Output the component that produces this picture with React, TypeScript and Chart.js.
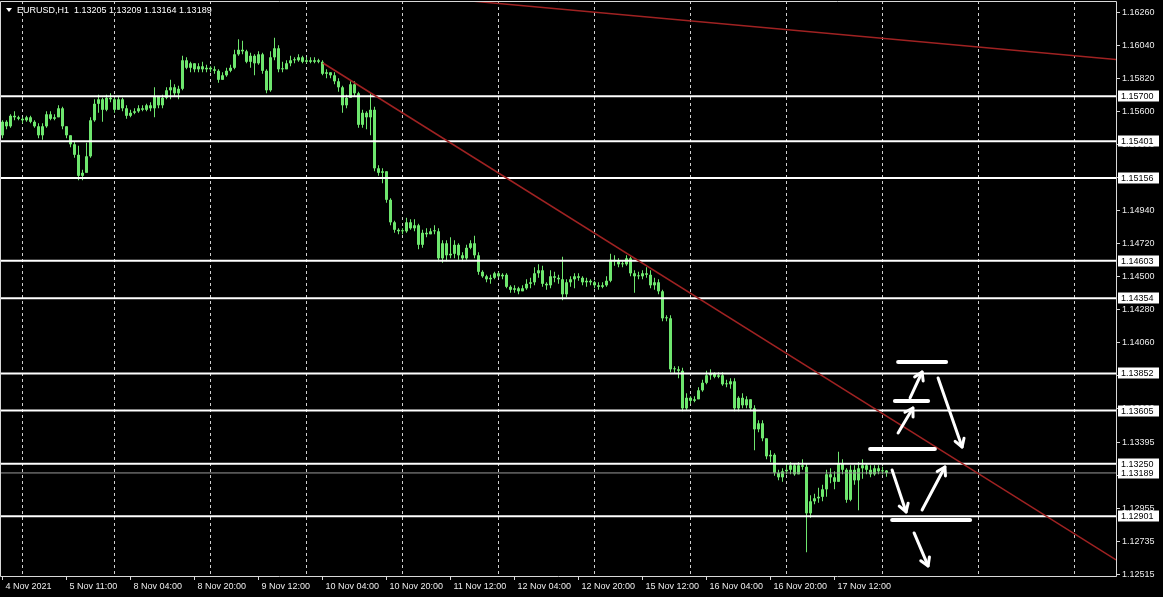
import React, { useEffect, useRef } from 'react';
import { Chart, registerables } from 'chart.js';
Chart.register(...registerables);

// ---------- data (EURUSD H1) ----------
const firstOpen = 1.1544;
const closes = [
  1.1553, 1.1550, 1.1557, 1.1556, 1.1555, 1.1554, 1.1556, 1.1553, 1.1550, 1.1544,
  1.1550, 1.1558, 1.1555, 1.1556, 1.1562, 1.1550, 1.1544, 1.1538, 1.1531, 1.1517,
  1.1519, 1.1530, 1.1554, 1.1565, 1.1568, 1.1561, 1.1569, 1.1568, 1.1561, 1.1568,
  1.1562, 1.1557, 1.1559, 1.1560, 1.1562, 1.1561, 1.1564, 1.1562, 1.1570, 1.1564,
  1.1569, 1.1574, 1.1576, 1.1572, 1.1575, 1.1594, 1.1589, 1.1592, 1.1588, 1.1590,
  1.1588, 1.1589, 1.1588, 1.1587, 1.1581, 1.1584, 1.1587, 1.1589, 1.1598, 1.1601,
  1.1600, 1.1593, 1.1597, 1.1592, 1.1598, 1.1587, 1.1574, 1.1596, 1.1602, 1.1588,
  1.1588, 1.1592, 1.1594, 1.1594, 1.1596, 1.1593, 1.1594, 1.1593, 1.1594, 1.1593,
  1.1585, 1.1586, 1.1584, 1.1580, 1.1576, 1.1564, 1.1569, 1.1578, 1.1572, 1.1551,
  1.1559, 1.1556, 1.1561, 1.1522, 1.1519, 1.1520, 1.1501, 1.1486, 1.1481, 1.1480,
  1.1480, 1.1486, 1.1482, 1.1484, 1.1471, 1.1479, 1.1478, 1.1480, 1.1480, 1.1462,
  1.1472, 1.1464, 1.1465, 1.1471, 1.1464, 1.1462, 1.1469, 1.1472, 1.1464, 1.1453,
  1.1450, 1.1448, 1.1449, 1.1452, 1.1450, 1.1451, 1.1443, 1.1441, 1.1442, 1.1440,
  1.1442, 1.1445, 1.1446, 1.1452, 1.1454, 1.1445, 1.1444, 1.1450, 1.1449, 1.1448,
  1.1438, 1.1446, 1.1448, 1.1450, 1.1449, 1.1446, 1.1447, 1.1446, 1.1444, 1.1443,
  1.1444, 1.1447, 1.1461, 1.1460, 1.1458, 1.1458, 1.1462, 1.1452, 1.1450, 1.1450,
  1.1452, 1.1451, 1.1444, 1.1446, 1.1440, 1.1422, 1.1422, 1.1388, 1.1388, 1.1387,
  1.1362, 1.1369, 1.1367, 1.1368, 1.1374, 1.1379, 1.1384, 1.1385, 1.1383, 1.1384,
  1.1378, 1.1378, 1.1380, 1.1362, 1.1369, 1.1364, 1.1368, 1.1362, 1.1348, 1.1352,
  1.1342, 1.1330, 1.1331, 1.1319, 1.1316, 1.1320, 1.1321, 1.1324, 1.1318, 1.1324,
  1.1323, 1.1292, 1.1300, 1.1302, 1.1303, 1.1308, 1.1318, 1.1316, 1.1313, 1.1325,
  1.1321, 1.1301, 1.1321, 1.1314, 1.1322, 1.1324, 1.1321, 1.1318, 1.1322, 1.1320,
  1.13205, 1.13189,
];
const highs = [
  1.1554, 1.1554, 1.1558, 1.1560, 1.1557, 1.1556, 1.1557, 1.1557, 1.1554, 1.1552,
  1.1552, 1.1560, 1.1560, 1.1558, 1.1564, 1.1563, 1.1550, 1.1544, 1.1540, 1.1537,
  1.1521, 1.1539, 1.1556, 1.1568, 1.1571, 1.1569, 1.1571, 1.1572, 1.1569, 1.1570,
  1.1569, 1.1564, 1.1561, 1.1562, 1.1564, 1.1564, 1.1565, 1.1566, 1.1576, 1.1570,
  1.1571, 1.1576, 1.1581, 1.1578, 1.1577, 1.1597, 1.1596, 1.1593, 1.1590, 1.1592,
  1.1593, 1.1591, 1.1590, 1.1590, 1.1588, 1.1586, 1.1589, 1.1591, 1.1601, 1.1608,
  1.1607, 1.1601, 1.1599, 1.1598, 1.1600, 1.1599, 1.1588, 1.1600, 1.1609, 1.1604,
  1.1593, 1.1594, 1.1597, 1.1596, 1.1598, 1.1597, 1.1596, 1.1596, 1.1596, 1.1595,
  1.1594, 1.1588, 1.1586, 1.1586, 1.1582, 1.1577, 1.1571, 1.1580, 1.1580, 1.1573,
  1.1561, 1.1560, 1.1572, 1.1563, 1.1524, 1.1522, 1.1520, 1.1502, 1.1487, 1.1482,
  1.1482, 1.1489, 1.1488, 1.1488, 1.1485, 1.1481, 1.1482, 1.1482, 1.1484, 1.1482,
  1.1474, 1.1474, 1.1476, 1.1474, 1.1472, 1.1466, 1.1471, 1.1474, 1.1477, 1.1466,
  1.1454, 1.1451, 1.1451, 1.1453, 1.1453, 1.1452, 1.1452, 1.1444, 1.1444, 1.1443,
  1.1444, 1.1448, 1.1449, 1.1456, 1.1458, 1.1457, 1.1446, 1.1454, 1.1453, 1.1451,
  1.1463, 1.1448, 1.1450, 1.1452, 1.1452, 1.1450, 1.1449, 1.1448, 1.1447, 1.1446,
  1.1446, 1.1450, 1.1465, 1.1464, 1.1462, 1.1460, 1.1464, 1.1463, 1.1454, 1.1453,
  1.1454, 1.1456, 1.1454, 1.1449, 1.1448, 1.1441, 1.1424, 1.1424, 1.1390, 1.1390,
  1.1389, 1.1372, 1.1370, 1.1370, 1.1376, 1.1381, 1.1387, 1.1388, 1.1386, 1.1386,
  1.1386, 1.1381, 1.1382, 1.1382, 1.1370, 1.1372, 1.1370, 1.1366, 1.1364, 1.1354,
  1.1354, 1.1341, 1.1334, 1.1332, 1.1321, 1.1322, 1.1325, 1.1326, 1.1325, 1.1326,
  1.1328, 1.1325, 1.1304, 1.1305, 1.1309, 1.1311, 1.1321, 1.1322, 1.1320, 1.1333,
  1.1328, 1.1322, 1.1324, 1.1324, 1.1326, 1.1328, 1.1325, 1.1324, 1.1324, 1.1324,
  1.1323, 1.13209,
];
const lows = [
  1.1542, 1.1548, 1.1549, 1.1554, 1.1554, 1.1552, 1.1553, 1.1552, 1.1549, 1.1542,
  1.1541, 1.1549, 1.1554, 1.1554, 1.1556, 1.1548, 1.1542, 1.1536, 1.1529, 1.1514,
  1.1514, 1.1521, 1.1529, 1.1553, 1.1559, 1.1553, 1.1560, 1.1566, 1.1559, 1.1561,
  1.1560, 1.1555, 1.1556, 1.1558, 1.1559, 1.1560, 1.1560, 1.1560, 1.1556, 1.1562,
  1.1562, 1.1568, 1.1568, 1.1570, 1.1568, 1.1574, 1.1588, 1.1586, 1.1586, 1.1586,
  1.1586, 1.1586, 1.1586, 1.1585, 1.1579, 1.1581, 1.1583, 1.1586, 1.1588, 1.1597,
  1.1598, 1.1592, 1.1589, 1.1584, 1.1591, 1.1585, 1.1572, 1.1573, 1.1594, 1.1586,
  1.1586, 1.1588, 1.1590, 1.1592, 1.1593, 1.1592, 1.1592, 1.1592, 1.1592, 1.1592,
  1.1584, 1.1582, 1.1582, 1.1578, 1.1573, 1.1559, 1.1562, 1.1569, 1.1570, 1.1549,
  1.1549, 1.1548, 1.1544, 1.1520, 1.1517, 1.1512, 1.1499, 1.1484, 1.1479, 1.1478,
  1.1478, 1.1479, 1.1481, 1.1480, 1.1468, 1.1469, 1.1476, 1.1479, 1.1478, 1.1460,
  1.1459, 1.1460, 1.1462, 1.1462, 1.1461, 1.1460, 1.1461, 1.1468, 1.1462, 1.1451,
  1.1449, 1.1446, 1.1445, 1.1448, 1.1449, 1.1448, 1.1442, 1.1439, 1.1439, 1.1438,
  1.1440, 1.1441, 1.1442, 1.1444, 1.1449, 1.1443, 1.1441, 1.1442, 1.1446, 1.1445,
  1.1434, 1.1436, 1.1443, 1.1442, 1.1447, 1.1444, 1.1443, 1.1444, 1.1442, 1.1441,
  1.1442, 1.1443, 1.1446, 1.1457, 1.1456, 1.1456, 1.1457, 1.1450, 1.1439, 1.1448,
  1.1448, 1.1449, 1.1442, 1.1441, 1.1438, 1.1420, 1.1420, 1.1386, 1.1385, 1.1382,
  1.1360, 1.1361, 1.1365, 1.1366, 1.1368, 1.1373, 1.1378, 1.1381, 1.1382, 1.1382,
  1.1377, 1.1376, 1.1375, 1.1360, 1.1360, 1.1362, 1.1362, 1.1360, 1.1334, 1.1346,
  1.1340, 1.1328, 1.1326, 1.1317, 1.1314, 1.1313, 1.1318, 1.1318, 1.1317, 1.1321,
  1.1321, 1.1266, 1.1289, 1.1298, 1.1299, 1.1300, 1.1303, 1.1312, 1.1308, 1.1314,
  1.1318, 1.1299, 1.1300, 1.1311, 1.1294, 1.1315, 1.1318, 1.1316, 1.1317, 1.1318,
  1.1318, 1.13164,
];

const xLabelIdx = [0, 16, 32, 48, 64, 80, 96, 112, 128, 144, 160, 176, 192, 208];
const xLabelText = [
  '4 Nov 2021', '5 Nov 11:00', '8 Nov 04:00', '8 Nov 20:00', '9 Nov 12:00', '10 Nov 04:00',
  '10 Nov 20:00', '11 Nov 12:00', '12 Nov 04:00', '12 Nov 20:00', '15 Nov 12:00',
  '16 Nov 04:00', '16 Nov 20:00', '17 Nov 12:00',
];
const dayGridIdx = [5, 28, 52, 76, 100, 124, 148, 172, 196, 220, 244, 268];
const priceTicks = [
  1.1626, 1.1604, 1.1582, 1.156, 1.1538, 1.1516, 1.1494, 1.1472, 1.145, 1.1428, 1.1406,
  1.1384, 1.1362, 1.13395, 1.13175, 1.12955, 1.12735, 1.12515,
];
const levelPrices = [1.157, 1.15401, 1.15156, 1.14603, 1.14354, 1.13852, 1.13605, 1.1325, 1.12901];
// trend lines: [barIndex, price]
const trendMain = [[80.1, 1.15922], [278.4, 1.12609]];
const trendTop = [[114.4, 1.16342], [278.4, 1.15945]];
// hand-drawn marks: bars [fromIdx, toIdx, price], arrows [tailIdx, tailPrice, tipIdx, tipPrice]
const drawnBars = [
  [223.9, 235.9, 1.13929],
  [223.1, 231.4, 1.13669],
  [216.9, 233.1, 1.13349],
  [222.4, 241.9, 1.12875],
];
const drawnArrows = [
  [223.9, 1.13455, 227.6, 1.13622],
  [226.9, 1.13689, 229.9, 1.13862],
  [233.9, 1.13822, 239.9, 1.13362],
  [222.4, 1.13209, 225.9, 1.12929],
  [229.9, 1.12942, 235.6, 1.13229],
  [227.9, 1.12789, 231.4, 1.12569],
];

const X_MIN = -0.625;
const X_MAX = 278.375;
const Y_MIN = 1.12502;
const Y_MAX = 1.163353;

const GREEN = 'rgb(110,230,110)';
const FONT = 'Liberation Sans';

export default function App() {
  const ref = useRef<HTMLCanvasElement | null>(null);

  useEffect(() => {
    document.body.style.margin = '0';
    document.body.style.background = '#000';
    const opens = closes.map((c, i) => (i === 0 ? firstOpen : closes[i - 1]));
    const bodies = closes.map((c, i) => ({ x: i, y: [opens[i], c] }));
    const wicks = closes.map((c, i) => ({
      x: i,
      y: [Math.min(lows[i], opens[i], c), Math.max(highs[i], opens[i], c)],
    }));
    const last = closes.length - 1;

    const levelSets = levelPrices.map((p) => ({
      type: 'line' as const,
      data: [{ x: X_MIN, y: p }, { x: X_MAX, y: p }],
      borderColor: '#ffffff',
      borderWidth: 2,
      pointRadius: 0,
      order: 1,
    }));

    const noPad = (s: any) => {
      s.paddingTop = 0;
      s.paddingBottom = 0;
      s.paddingLeft = 0;
      s.paddingRight = 0;
    };

    const overlay = {
      id: 'overlay',
      afterDatasetsDraw(chart: any) {
        const { ctx } = chart;
        const xs = chart.scales.x;
        const ys = chart.scales.y;
        ctx.save();
        ctx.strokeStyle = '#ffffff';
        ctx.lineCap = 'round';
        ctx.lineJoin = 'round';
        ctx.lineWidth = 4;
        for (const [a, b, p] of drawnBars) {
          ctx.beginPath();
          ctx.moveTo(xs.getPixelForValue(a), ys.getPixelForValue(p));
          ctx.lineTo(xs.getPixelForValue(b), ys.getPixelForValue(p));
          ctx.stroke();
        }
        ctx.lineWidth = 3;
        for (const [ti, tp, hi, hp] of drawnArrows) {
          const x0 = xs.getPixelForValue(ti), y0 = ys.getPixelForValue(tp);
          const x1 = xs.getPixelForValue(hi), y1 = ys.getPixelForValue(hp);
          ctx.beginPath();
          ctx.moveTo(x0, y0);
          ctx.lineTo(x1, y1);
          ctx.stroke();
          const ang = Math.atan2(y1 - y0, x1 - x0);
          const len = 9;
          ctx.beginPath();
          ctx.moveTo(x1 - len * Math.cos(ang - 0.55), y1 - len * Math.sin(ang - 0.55));
          ctx.lineTo(x1, y1);
          ctx.lineTo(x1 - len * Math.cos(ang + 0.55), y1 - len * Math.sin(ang + 0.55));
          ctx.stroke();
        }
        ctx.restore();
      },
      afterDraw(chart: any) {
        const { ctx, chartArea: ca } = chart;
        const ys = chart.scales.y;
        ctx.save();
        // frame
        ctx.strokeStyle = '#d8d8d8';
        ctx.lineWidth = 1;
        ctx.beginPath();
        ctx.moveTo(ca.left + 0.5, ca.top + 0.5);
        ctx.lineTo(ca.right + 0.5, ca.top + 0.5);
        ctx.lineTo(ca.right + 0.5, ca.bottom + 0.5);
        ctx.lineTo(ca.left + 0.5, ca.bottom + 0.5);
        ctx.closePath();
        ctx.stroke();
        // header
        ctx.fillStyle = '#ffffff';
        ctx.beginPath();
        ctx.moveTo(6, 8);
        ctx.lineTo(12, 8);
        ctx.lineTo(9, 12);
        ctx.closePath();
        ctx.fill();
        ctx.font = `9px "${FONT}"`;
        ctx.textBaseline = 'middle';
        ctx.textAlign = 'left';
        const hdr = `EURUSD,H1  ${opens[last].toFixed(5)} ${highs[last].toFixed(5)} ${lows[last].toFixed(5)} ${closes[last].toFixed(5)}`;
        ctx.fillText(hdr, 17, 10.5);
        // level price labels
        const boxes = [...levelPrices, closes[last]];
        for (const p of boxes) {
          const yy = Math.round(ys.getPixelForValue(p));
          ctx.fillStyle = '#ffffff';
          ctx.fillRect(ca.right + 2, yy - 5.5, 41, 11);
          ctx.fillStyle = '#000000';
          ctx.fillText(p.toFixed(5), ca.right + 5, yy + 0.5);
        }
        ctx.restore();
      },
    };

    const chart = new Chart(ref.current as HTMLCanvasElement, {
      type: 'bar',
      data: {
        datasets: [
          ...levelSets,
          {
            type: 'line',
            data: [{ x: X_MIN, y: closes[last] }, { x: X_MAX, y: closes[last] }],
            borderColor: '#9a9a9a',
            borderWidth: 1,
            pointRadius: 0,
            order: 2,
          },
          {
            type: 'line',
            data: trendMain.map(([x, y]) => ({ x, y })),
            borderColor: '#a02222',
            borderWidth: 1.5,
            pointRadius: 0,
            order: 0,
          },
          {
            type: 'line',
            data: trendTop.map(([x, y]) => ({ x, y })),
            borderColor: '#a02222',
            borderWidth: 1.5,
            pointRadius: 0,
            order: 0,
          },
          {
            type: 'bar',
            data: wicks as any,
            backgroundColor: GREEN,
            barThickness: 1,
            grouped: false,
            minBarLength: 1,
            inflateAmount: 0,
            borderWidth: 0,
            order: 10,
          },
          {
            type: 'bar',
            data: bodies as any,
            backgroundColor: GREEN,
            barThickness: 3,
            grouped: false,
            minBarLength: 1,
            inflateAmount: 0,
            borderWidth: 0,
            order: 9,
          },
        ] as any,
      },
      options: {
        responsive: false,
        animation: false,
        events: [],
        layout: { padding: { top: 1, left: 0, right: 0, bottom: 0 } },
        plugins: { legend: { display: false }, tooltip: { enabled: false } },
        scales: {
          x: {
            type: 'linear',
            position: 'bottom',
            min: X_MIN,
            max: X_MAX,
            offset: false,
            afterBuildTicks: (s: any) => {
              s.ticks = xLabelIdx.map((v) => ({ value: v }));
            },
            afterFit: (s: any) => {
              s.height = 21;
              noPad(s);
            },
            grid: {
              offset: false,
              drawOnChartArea: false,
              drawTicks: true,
              tickLength: 4,
              tickColor: '#d8d8d8',
            },
            border: { display: false },
            ticks: {
              autoSkip: false,
              maxRotation: 0,
              minRotation: 0,
              align: 'start',
              labelOffset: 3,
              padding: 1,
              color: '#ececec',
              font: { family: FONT, size: 9 },
              callback: (_v: any, i: number) => xLabelText[i],
            },
          },
          xg: {
            type: 'linear',
            position: 'bottom',
            min: X_MIN,
            max: X_MAX,
            offset: false,
            afterBuildTicks: (s: any) => {
              s.ticks = dayGridIdx.map((v) => ({ value: v }));
            },
            afterFit: (s: any) => {
              s.height = 0;
              noPad(s);
            },
            grid: {
              offset: false,
              drawOnChartArea: true,
              drawTicks: false,
              color: '#cfcfcf',
              lineWidth: 1,
            },
            border: { display: false, dash: [3, 3] },
            ticks: { display: false },
          },
          y: {
            type: 'linear',
            position: 'right',
            min: Y_MIN,
            max: Y_MAX,
            afterBuildTicks: (s: any) => {
              s.ticks = priceTicks.map((v) => ({ value: v }));
            },
            afterFit: (s: any) => {
              s.width = 47;
              noPad(s);
            },
            grid: {
              drawOnChartArea: false,
              drawTicks: true,
              tickLength: 4,
              tickColor: '#d8d8d8',
            },
            border: { display: false },
            ticks: {
              autoSkip: false,
              padding: 2,
              color: '#ececec',
              font: { family: FONT, size: 9 },
              callback: (v: any) => Number(v).toFixed(5),
            },
          },
        },
      } as any,
      plugins: [overlay],
    });
    return () => chart.destroy();
  }, []);

  return (
    <div style={{ position: 'fixed', left: 0, top: 0, width: 1163, height: 597, background: '#000' }}>
      <canvas ref={ref} width={1163} height={597} style={{ display: 'block' }} />
    </div>
  );
}
